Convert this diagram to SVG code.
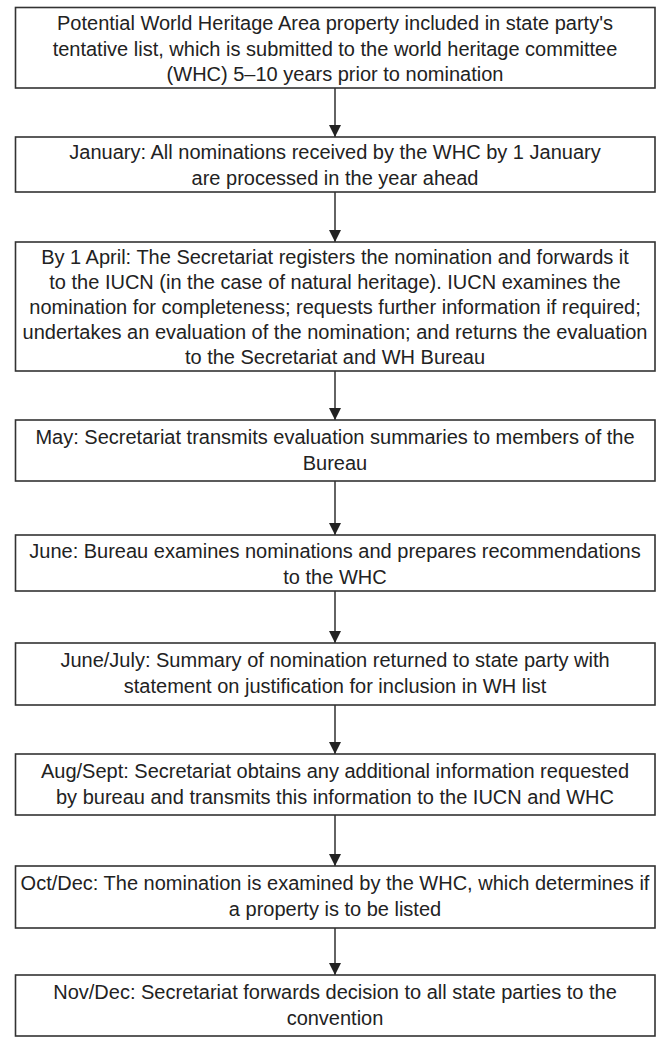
<svg xmlns="http://www.w3.org/2000/svg" width="657" height="1040" viewBox="0 0 657 1040">
<defs>
<style>
.box{fill:#fff;stroke:#333;stroke-width:1.6}
.t{font-family:"Liberation Sans",Arial,sans-serif;font-size:20px;fill:#222;text-anchor:middle}
.c{stroke:#222;stroke-width:1.4;fill:none}
</style>
<marker id="ah" viewBox="0 0 12 12" refX="12" refY="6" markerWidth="12" markerHeight="12" markerUnits="userSpaceOnUse" orient="auto">
<path d="M0,0 L12,6 L0,12 Z" fill="#222"/>
</marker>
</defs>
<rect width="657" height="1040" fill="#fff"/>
<g id="connectors">
<line class="c" x1="335" y1="88" x2="335" y2="137" marker-end="url(#ah)"/>
<line class="c" x1="335" y1="192" x2="335" y2="242" marker-end="url(#ah)"/>
<line class="c" x1="335" y1="371" x2="335" y2="420" marker-end="url(#ah)"/>
<line class="c" x1="335" y1="481" x2="335" y2="535" marker-end="url(#ah)"/>
<line class="c" x1="335" y1="591" x2="335" y2="643" marker-end="url(#ah)"/>
<line class="c" x1="335" y1="705" x2="335" y2="754" marker-end="url(#ah)"/>
<line class="c" x1="335" y1="815" x2="335" y2="866" marker-end="url(#ah)"/>
<line class="c" x1="335" y1="928" x2="335" y2="975" marker-end="url(#ah)"/>
</g>
<g id="n1"><rect class="box" x="15.5" y="7.5" width="639.5" height="80.5"/>
<text class="t" x="335" y="30">Potential World Heritage Area property included in state party's</text>
<text class="t" x="335" y="56">tentative list, which is submitted to the world heritage committee</text>
<text class="t" x="335" y="81">(WHC) 5–10 years prior to nomination</text></g>
<g id="n2"><rect class="box" x="15.5" y="137" width="639.5" height="55"/>
<text class="t" x="335" y="159">January: All nominations received by the WHC by 1 January</text>
<text class="t" x="335" y="185">are processed in the year ahead</text></g>
<g id="n3"><rect class="box" x="15.5" y="242" width="639.5" height="129"/>
<text class="t" x="335" y="264">By 1 April: The Secretariat registers the nomination and forwards it</text>
<text class="t" x="335" y="289">to the IUCN (in the case of natural heritage). IUCN examines the</text>
<text class="t" x="335" y="314">nomination for completeness; requests further information if required;</text>
<text class="t" x="335" y="339">undertakes an evaluation of the nomination; and returns the evaluation</text>
<text class="t" x="335" y="364">to the Secretariat and WH Bureau</text></g>
<g id="n4"><rect class="box" x="15.5" y="420" width="639.5" height="61"/>
<text class="t" x="335" y="444">May: Secretariat transmits evaluation summaries to members of the</text>
<text class="t" x="335" y="470">Bureau</text></g>
<g id="n5"><rect class="box" x="15.5" y="535" width="639.5" height="56"/>
<text class="t" x="335" y="558">June: Bureau examines nominations and prepares recommendations</text>
<text class="t" x="335" y="584">to the WHC</text></g>
<g id="n6"><rect class="box" x="15.5" y="643" width="639.5" height="62"/>
<text class="t" x="335" y="667">June/July: Summary of nomination returned to state party with</text>
<text class="t" x="335" y="693">statement on justification for inclusion in WH list</text></g>
<g id="n7"><rect class="box" x="15.5" y="754" width="639.5" height="61"/>
<text class="t" x="335" y="778">Aug/Sept: Secretariat obtains any additional information requested</text>
<text class="t" x="335" y="804">by bureau and transmits this information to the IUCN and WHC</text></g>
<g id="n8"><rect class="box" x="15.5" y="866" width="639.5" height="62"/>
<text class="t" x="335" y="890">Oct/Dec: The nomination is examined by the WHC, which determines if</text>
<text class="t" x="335" y="916">a property is to be listed</text></g>
<g id="n9"><rect class="box" x="15.5" y="975" width="639.5" height="61"/>
<text class="t" x="335" y="999">Nov/Dec: Secretariat forwards decision to all state parties to the</text>
<text class="t" x="335" y="1025">convention</text></g>
</svg>
